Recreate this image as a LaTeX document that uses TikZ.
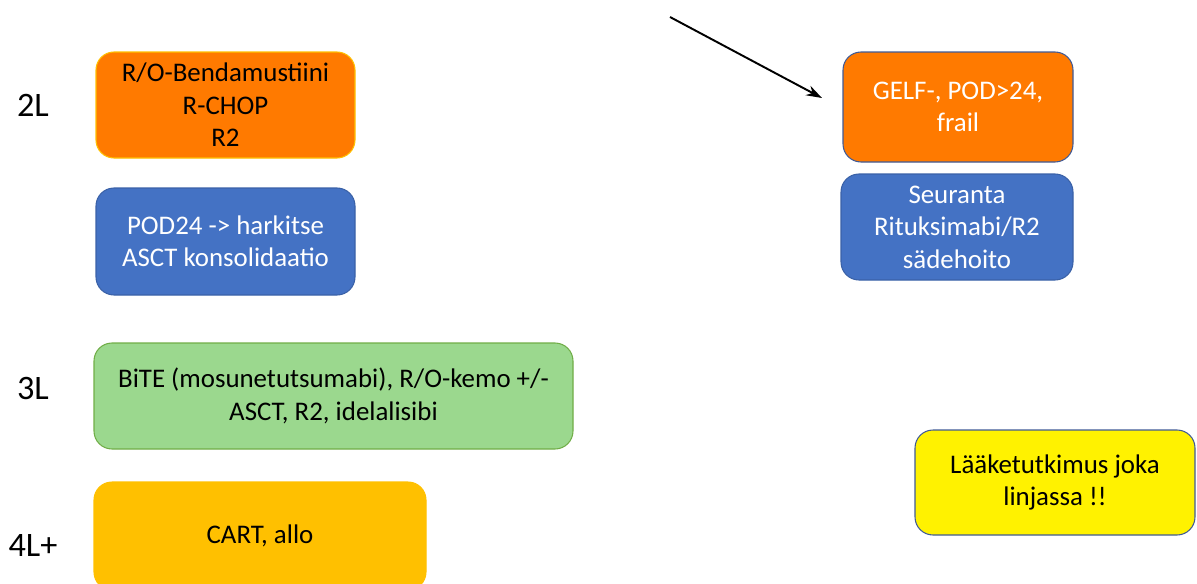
\documentclass[tikz,border=0pt]{standalone}
\usepackage{fontspec}
\setmainfont{Carlito}
\usetikzlibrary{arrows.meta}

\definecolor{hotorange}{RGB}{255,122,0}
\definecolor{lineblue}{RGB}{68,114,196}
\definecolor{lightgreen}{RGB}{155,216,142}
\definecolor{greenedge}{RGB}{112,173,71}
\definecolor{gold}{RGB}{255,192,0}
\definecolor{edgeblue}{RGB}{64,90,150}

\begin{document}
\begin{tikzpicture}[x=0.02cm, y=0.02cm,
    box/.style={rectangle, rounded corners=0.36cm, align=center, line width=0.6pt,
        font=\fontsize{15.3}{18.5}\selectfont, inner sep=2pt},
    linelabel/.style={font=\fontsize{19.5}{23}\selectfont}]
    \useasboundingbox (0,0) rectangle (1197,583);

    % Treatment lines
    \node[linelabel] (l2) at (33, 478) {2L};
    \node[linelabel] (l3) at (33, 195) {3L};
    \node[linelabel] (l4) at (33, 38) {4L+};

    % Left column
    \node[box, fill=hotorange, draw=gold, minimum width=259*0.02cm, minimum height=106*0.02cm]
        (ro) at (225.5, 478) {R/O-Bendamustiini\\R-CHOP\\R2};
    \node[box, fill=lineblue, draw=lineblue!85!black, text=white, minimum width=259*0.02cm, minimum height=107*0.02cm]
        (pod) at (225.5, 341.5) {POD24 -> harkitse\\ASCT konsolidaatio};
    \node[box, fill=lightgreen, draw=greenedge, minimum width=479*0.02cm, minimum height=106*0.02cm]
        (bite) at (333.5, 187) {BiTE (mosunetutsumabi), R/O-kemo +/-\\ASCT, R2, idelalisibi};
    \node[box, fill=gold, draw=gold, minimum width=332*0.02cm, minimum height=108*0.02cm]
        (cart) at (260, 47) {CART, allo};

    % Right column
    \node[box, fill=hotorange, draw=edgeblue, text=white, minimum width=230*0.02cm, minimum height=110*0.02cm]
        (gelf) at (958, 476) {GELF-, POD>24,\\frail};
    \node[box, fill=lineblue, draw=lineblue!85!black, text=white, minimum width=232*0.02cm, minimum height=106*0.02cm]
        (seur) at (957, 356) {Seuranta\\Rituksimabi/R2\\sädehoito};
    \node[box, fill=yellow, draw=edgeblue, minimum width=280*0.02cm, minimum height=105*0.02cm]
        (laake) at (1055, 100.5) {Lääketutkimus joka\\linjassa !!};

    % Arrow
    \coordinate (arrfrom) at (670, 566);
    \coordinate (arrto) at (822, 485);
    \draw[-{Stealth[length=9pt, width=6pt]}, line width=1.1pt] (arrfrom) -- (arrto);
\end{tikzpicture}
\end{document}
